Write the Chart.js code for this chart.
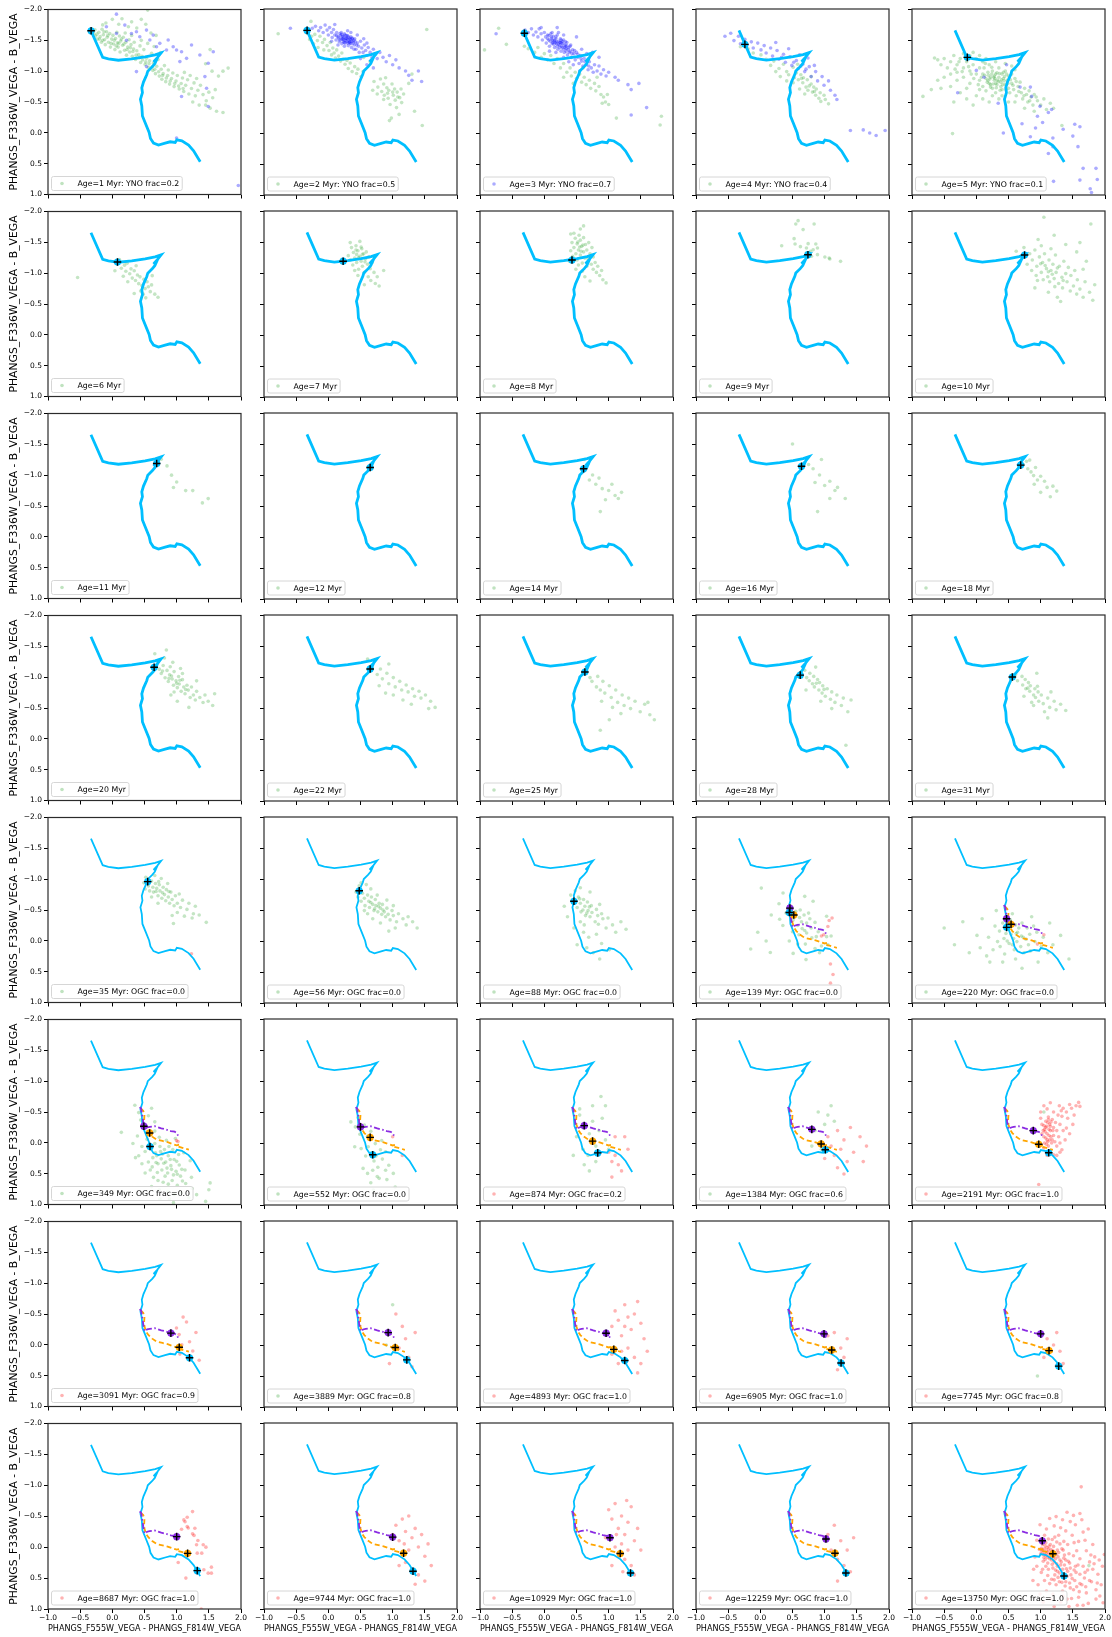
<!DOCTYPE html>
<html>
<head>
<meta charset="utf-8">
<script src="https://cdn.jsdelivr.net/npm/chart.js@4.4.1/dist/chart.umd.min.js"></script>
<style>
  html, body { margin: 0; padding: 0; background: #fff; }
  body { width: 1112px; height: 1637px; position: relative; overflow: hidden; }
  canvas { position: absolute; }
</style>
</head>
<body>
<script>
// ---- panel ages and legend text ----
const ages = [1, 2, 3, 4, 5, 6, 7, 8, 9, 10, 11, 12, 14, 16, 18, 20, 22, 25, 28, 31,
  35, 56, 88, 139, 220, 349, 552, 874, 1384, 2191, 3091, 3889, 4893, 6905, 7745,
  8687, 9744, 10929, 12259, 13750];
const fracText = ['YNO frac=0.2', 'YNO frac=0.5', 'YNO frac=0.7', 'YNO frac=0.4', 'YNO frac=0.1',
  '', '', '', '', '', '', '', '', '', '', '', '', '', '', '',
  'OGC frac=0.0', 'OGC frac=0.0', 'OGC frac=0.0', 'OGC frac=0.0', 'OGC frac=0.0',
  'OGC frac=0.0', 'OGC frac=0.0', 'OGC frac=0.2', 'OGC frac=0.6', 'OGC frac=1.0',
  'OGC frac=0.9', 'OGC frac=0.8', 'OGC frac=1.0', 'OGC frac=1.0', 'OGC frac=0.8',
  'OGC frac=1.0', 'OGC frac=1.0', 'OGC frac=1.0', 'OGC frac=1.0', 'OGC frac=1.0'];
const legendKind = ['g', 'g', 'b', 'g', 'g', 'g', 'g', 'g', 'g', 'g', 'g', 'g', 'g', 'g', 'g', 'g', 'g', 'g', 'g', 'g',
  'g', 'g', 'g', 'g', 'g', 'g', 'g', 'r', 'g', 'r', 'r', 'g', 'r', 'r', 'r', 'r', 'r', 'r', 'r', 'r'];

// ---- axis ranges and ticks ----
const xRange = [-1, 2];
const yRange = [-2, 1];
const tickStep = 0.5;
const xTitle = 'PHANGS_F555W_VEGA - PHANGS_F814W_VEGA';
const yTitle = 'PHANGS_F336W_VEGA - B_VEGA';

// ---- model tracks (colour-colour) ----
const trackBlue = [[-0.332, -1.656], [-0.15, -1.226], [-0.062, -1.199], [0.094, -1.177], [0.302, -1.199],
  [0.51, -1.231], [0.665, -1.263], [0.758, -1.296], [0.70, -1.22], [0.64, -1.15], [0.69, -1.19],
  [0.66, -1.12], [0.62, -1.07], [0.551, -1.0], [0.536, -0.946], [0.484, -0.823], [0.458, -0.731],
  [0.468, -0.651], [0.437, -0.543], [0.458, -0.435], [0.468, -0.274], [0.52, -0.14], [0.572, -0.005],
  [0.593, 0.091], [0.64, 0.167], [0.717, 0.199], [0.821, 0.167], [0.899, 0.145], [0.977, 0.156],
  [1.003, 0.113], [1.081, 0.129], [1.185, 0.199], [1.263, 0.29], [1.366, 0.468]];
const trackPurple = [[0.425, -0.58], [0.45, -0.55], [0.455, -0.5], [0.47, -0.42], [0.48, -0.34], [0.49, -0.28],
  [0.503, -0.22], [0.54, -0.25], [0.58, -0.26], [0.66, -0.27], [0.76, -0.235], [0.84, -0.215],
  [0.91, -0.19], [0.97, -0.18], [1.0, -0.16], [1.02, -0.12], [1.03, -0.10]];
const trackOrange = [[0.44, -0.56], [0.48, -0.52], [0.50, -0.46], [0.495, -0.38], [0.50, -0.30], [0.52, -0.22],
  [0.56, -0.16], [0.62, -0.10], [0.69, -0.05], [0.78, -0.03], [0.86, -0.01], [0.94, 0.02], [1.0, 0.04],
  [1.04, 0.03], [1.02, 0.06], [1.09, 0.08], [1.19, 0.11]];

// ---- age markers on each track ----
const markBlue = [[-0.33, -1.655], [-0.33, -1.655], [-0.31, -1.61], [-0.24, -1.43], [-0.14, -1.22],
  [0.08, -1.18], [0.23, -1.19], [0.43, -1.21], [0.74, -1.295], [0.75, -1.29],
  [0.69, -1.19], [0.65, -1.12], [0.61, -1.10], [0.64, -1.14], [0.69, -1.16],
  [0.65, -1.16], [0.65, -1.13], [0.63, -1.08], [0.62, -1.03], [0.56, -1.0],
  [0.55, -0.96], [0.48, -0.81], [0.46, -0.64], [0.45, -0.46], [0.47, -0.22],
  [0.586, 0.06], [0.69, 0.19], [0.83, 0.16], [1.01, 0.11], [1.125, 0.157],
  [1.20, 0.21], [1.22, 0.24], [1.25, 0.25], [1.255, 0.29], [1.28, 0.34],
  [1.32, 0.38], [1.316, 0.39], [1.34, 0.42], [1.33, 0.42], [1.363, 0.468]];
const markPurple = [null, null, null, null, null, null, null, null, null, null,
  null, null, null, null, null, null, null, null, null, null, null, null, null,
  [0.46, -0.53], [0.47, -0.36], [0.49, -0.27], [0.50, -0.26], [0.62, -0.28], [0.80, -0.22],
  [0.885, -0.20], [0.91, -0.19], [0.93, -0.20], [0.96, -0.19], [0.99, -0.18], [1.0, -0.18],
  [1.0, -0.17], [1.0, -0.16], [1.02, -0.15], [1.02, -0.13], [1.025, -0.10]];
const markOrange = [null, null, null, null, null, null, null, null, null, null,
  null, null, null, null, null, null, null, null, null, null, null, null, null,
  [0.52, -0.42], [0.54, -0.27], [0.58, -0.16], [0.65, -0.09], [0.75, -0.03], [0.945, 0.015],
  [0.97, 0.02], [1.04, 0.04], [1.04, 0.04], [1.08, 0.07], [1.11, 0.08], [1.13, 0.09],
  [1.17, 0.10], [1.17, 0.10], [1.18, 0.105], [1.16, 0.10], [1.19, 0.11]];

// ---- cluster colours per panel: green = intermediate, blue = young, red = old ----
const greenA1 = [[-0.29,-1.61],[-0.26,-1.57],[-0.27,-1.67],[-0.23,-1.52],[-0.21,-1.63],[-0.19,-1.56],[-0.17,-1.47],[-0.16,-1.68],[-0.14,-1.59],[-0.12,-1.51],[-0.11,-1.43],[-0.09,-1.64],[-0.08,-1.55],[-0.06,-1.47],[-0.04,-1.61],[-0.03,-1.39],[-0.01,-1.52],[0.01,-1.58],[0.02,-1.44],[0.04,-1.35],[0.05,-1.53],[0.07,-1.63],[0.08,-1.46],[0.09,-1.39],[0.11,-1.57],[0.12,-1.31],[0.13,-1.49],[0.16,-1.42],[0.17,-1.55],[0.19,-1.34],[0.21,-1.47],[0.22,-1.26],[0.24,-1.39],[0.26,-1.51],[0.27,-1.31],[0.29,-1.43],[0.31,-1.24],[0.33,-1.36],[0.34,-1.47],[0.36,-1.19],[0.38,-1.33],[0.41,-1.27],[0.43,-1.41],[0.44,-1.14],[0.46,-1.24],[0.49,-1.35],[0.51,-1.11],[0.53,-1.21],[0.56,-1.06],[0.58,-1.17],[0.61,-1.29],[0.63,-1.01],[0.64,-1.13],[0.67,-0.96],[0.69,-1.08],[0.71,-1.19],[0.73,-0.92],[0.76,-1.03],[0.77,-0.87],[0.79,-0.96],[0.81,-1.09],[0.83,-0.83],[0.86,-0.93],[0.87,-1.02],[0.89,-0.79],[0.92,-0.88],[0.94,-0.97],[0.96,-0.75],[0.99,-0.84],[1.01,-0.93],[1.04,-0.71],[1.07,-0.8],[1.09,-0.89],[1.11,-0.67],[1.14,-0.77],[1.17,-0.86],[1.19,-0.63],[1.23,-0.72],[1.27,-0.81],[1.29,-0.6],[1.33,-0.69],[1.37,-0.77],[1.41,-0.62],[1.46,-0.52],[1.5,-0.66],[1.56,-0.57],[1.62,-0.35],[1.72,-0.33],[-0.24,-1.6],[-0.2,-1.52],[-0.15,-1.5],[-0.13,-1.64],[-0.07,-1.58],[-0.02,-1.45],[0.03,-1.5],[0.06,-1.41],[0.1,-1.45],[0.14,-1.52],[0.18,-1.44],[0.23,-1.35],[0.28,-1.38],[0.32,-1.32],[0.37,-1.26],[0.42,-1.22],[0.47,-1.18],[0.52,-1.15],[0.57,-1.12],[0.62,-1.07],[0.66,-1.03],[0.72,-0.99],[0.78,-0.93],[0.84,-0.89],[0.9,-0.84],[0.97,-0.8],[1.03,-0.76],[1.1,-0.72],[-0.1,-1.78],[0,-1.84],[0.1,-1.76],[0.15,-1.85],[0.25,-1.72],[0.3,-1.8],[0.38,-1.7],[0.45,-1.84],[0.52,-1.76],[0.6,-1.62],[0.68,-1.58],[0.55,-1.99],[0.2,-1.62],[0.3,-1.58],[0.45,-1.5],[0.55,-1.45],[0.65,-1.4],[0.75,-1.3],[-0.15,-1.75],[1.55,-1.0],[1.45,-1.12],[1.65,-0.92],[1.8,-1.05],[1.72,-1.0],[1.52,-1.35],[1.6,-0.7],[1.45,-0.45],[1.35,-0.45],[1.25,-0.5],[1.52,-0.4],[1.21,-0.93],[1.31,-0.88],[1.12,-0.98]];
const blueA1 = [[0.064,-1.925],[-0.092,-1.72],[0.194,-1.747],[0.297,-1.612],[0.375,-1.639],[0.531,-1.666],[0.427,-1.558],[0.583,-1.505],[0.687,-1.397],[0.738,-1.451],[0.842,-1.343],[0.946,-1.397],[0.998,-1.343],[1.076,-1.316],[1.05,-1.155],[1.154,-1.208],[1.231,-1.424],[1.361,-1.262],[1.491,-1.128],[1.569,-1.316],[1.439,-0.912],[1.465,-0.724],[1.491,-0.428],[1.076,-0.589],[0.998,0.084],[0.375,-0.993],[0.531,-1.074],[1.958,0.854],[0.22,-1.5],[0.635,-1.585],[0.868,-1.505],[0.064,-1.612]];
const greenA2 = [[-0.33,-1.61],[-0.29,-1.51],[-0.26,-1.56],[-0.23,-1.44],[-0.21,-1.59],[-0.17,-1.49],[-0.16,-1.38],[-0.13,-1.56],[-0.09,-1.46],[-0.07,-1.34],[-0.06,-1.51],[-0.02,-1.41],[0.01,-1.33],[0.03,-1.46],[0.05,-1.26],[0.07,-1.37],[0.09,-1.29],[0.11,-1.21],[0.13,-1.34],[0.16,-1.24],[0.19,-1.16],[0.21,-1.29],[0.23,-1.19],[0.26,-1.11],[0.29,-1.17],[0.31,-1.04],[0.34,-1.13],[0.37,-0.99],[0.41,-1.07],[0.44,-0.96],[0.46,-1.03],[0.51,-0.91],[0.54,-0.99],[0.71,-0.83],[0.77,-0.74],[0.81,-0.87],[0.83,-0.67],[0.86,-0.79],[0.87,-0.61],[0.91,-0.73],[0.93,-0.56],[0.94,-0.69],[0.99,-0.79],[1.01,-0.61],[1.03,-0.71],[1.04,-0.53],[1.07,-0.66],[1.11,-0.57],[1.13,-0.71],[1.14,-0.49],[1.17,-0.63],[0.86,-0.54],[0.76,-0.63],[0.69,-0.69],[0.96,-0.46],[1.06,-0.41],[0.89,-0.89],[1.0,-0.66],[0.92,-0.64],[1.08,-0.58],[-0.78,-1.6],[-0.27,-1.8],[-0.35,-1.65],[1.53,-1.67],[1.34,-0.35],[1.46,-0.12],[0.98,-0.24],[1.1,-0.3],[0.95,-0.2],[0.55,-1.22],[0.65,-1.15],[1.3,-0.95],[1.25,-0.8]];
const blueA2 = [[-0.25,-1.69],[-0.2,-1.72],[-0.15,-1.65],[-0.12,-1.7],[-0.08,-1.62],[-0.05,-1.74],[-0.02,-1.66],[0,-1.58],[0.02,-1.7],[0.05,-1.62],[0.06,-1.54],[0.08,-1.67],[0.1,-1.58],[0.12,-1.5],[0.13,-1.62],[0.15,-1.55],[0.17,-1.47],[0.18,-1.6],[0.2,-1.52],[0.21,-1.44],[0.22,-1.56],[0.24,-1.5],[0.25,-1.6],[0.26,-1.45],[0.28,-1.53],[0.29,-1.48],[0.3,-1.57],[0.31,-1.41],[0.32,-1.5],[0.34,-1.45],[0.35,-1.55],[0.36,-1.38],[0.38,-1.48],[0.4,-1.42],[0.41,-1.52],[0.43,-1.35],[0.45,-1.45],[0.47,-1.4],[0.48,-1.3],[0.5,-1.48],[0.52,-1.37],[0.54,-1.3],[0.56,-1.42],[0.58,-1.33],[0.6,-1.25],[0.62,-1.38],[0.65,-1.3],[0.68,-1.22],[0.7,-1.35],[0.73,-1.27],[0.76,-1.2],[0.8,-1.3],[0.85,-1.22],[0.9,-1.15],[0.95,-1.25],[1.0,-1.1],[1.05,-1.18],[1.1,-1.05],[1.2,-1.0],[1.25,-0.93],[1.3,-0.85],[1.45,-0.83],[1.4,-1.0],[0.2,-1.62],[0.25,-1.4],[0.15,-1.42],[0.35,-1.62],[0.45,-1.58],[0.55,-1.52],[0.1,-1.75],[0.3,-1.65],[0.4,-1.35],[0.6,-1.45],[0.05,-1.48],[-0.59,-1.69],[0.6,-1.1],[0.7,-1.05],[0.5,-1.2],[0.27,-1.52],[0.33,-1.47],[0.23,-1.47],[0.37,-1.52],[0.16,-1.53],[0.19,-1.57],[0.22,-1.51],[0.24,-1.55],[0.26,-1.58],[0.27,-1.49],[0.29,-1.52],[0.31,-1.55],[0.32,-1.46],[0.34,-1.51],[0.36,-1.48],[0.37,-1.53],[0.39,-1.45],[0.42,-1.47],[0.44,-1.42],[0.23,-1.53],[0.28,-1.57],[0.33,-1.53],[0.18,-1.5],[0.21,-1.59],[0.3,-1.45],[0.25,-1.46],[0.35,-1.44],[0.4,-1.5],[0.13,-1.57]];
const greenA3 = [[-0.93,-1.34],[-0.71,-1.69],[-0.59,-1.43],[-0.31,-1.4],[-0.25,-1.36],[-0.15,-1.3],[-0.1,-1.38],[-0.05,-1.22],[0,-1.28],[0.05,-1.18],[0.1,-1.25],[0.15,-1.12],[0.2,-1.2],[0.25,-1.05],[0.3,-1.12],[0.35,-0.98],[0.4,-1.05],[0.42,-0.92],[0.48,-0.98],[0.5,-0.88],[0.55,-0.95],[0.58,-0.82],[0.62,-0.9],[0.65,-0.78],[0.7,-0.85],[0.72,-0.72],[0.78,-0.8],[0.8,-0.68],[0.85,-0.75],[0.88,-0.62],[0.92,-0.58],[0.95,-0.5],[0.98,-0.62],[1.0,-0.46],[0.9,-0.48],[1.12,-0.24],[1.8,-0.13],[1.82,-0.27],[0.6,-1.05],[0.3,-0.9],[0.45,-0.8],[0.82,-0.9]];
const blueA3 = [[-0.3,-1.66],[-0.25,-1.62],[-0.2,-1.68],[-0.17,-1.58],[-0.13,-1.63],[-0.1,-1.55],[-0.08,-1.68],[-0.05,-1.6],[-0.03,-1.5],[0,-1.62],[0.02,-1.55],[0.03,-1.45],[0.05,-1.58],[0.07,-1.5],[0.08,-1.4],[0.1,-1.6],[0.11,-1.52],[0.12,-1.44],[0.14,-1.56],[0.15,-1.48],[0.16,-1.38],[0.18,-1.52],[0.19,-1.44],[0.2,-1.58],[0.21,-1.35],[0.22,-1.48],[0.24,-1.42],[0.25,-1.52],[0.26,-1.32],[0.27,-1.45],[0.28,-1.38],[0.3,-1.5],[0.31,-1.3],[0.32,-1.42],[0.34,-1.36],[0.35,-1.46],[0.36,-1.26],[0.38,-1.38],[0.4,-1.32],[0.41,-1.42],[0.42,-1.22],[0.44,-1.34],[0.46,-1.28],[0.48,-1.18],[0.5,-1.3],[0.52,-1.22],[0.54,-1.12],[0.56,-1.25],[0.58,-1.16],[0.6,-1.08],[0.62,-1.2],[0.65,-1.1],[0.68,-1.02],[0.7,-1.15],[0.73,-1.05],[0.76,-0.98],[0.78,-1.1],[0.82,-1.0],[0.85,-1.08],[0.88,-0.95],[0.92,-1.02],[0.96,-0.92],[1.0,-0.98],[0.12,-1.62],[0.22,-1.62],[0.3,-1.58],[0.08,-1.32],[0.18,-1.3],[0.3,-1.22],[0.38,-1.15],[0.45,-1.1],[0.55,-1.0],[-0.05,-1.7],[0.2,-1.7],[0.5,-1.55],[0.58,-1.35],[0.66,-1.28],[0.75,-1.3],[0.85,-1.22],[-0.75,-1.6],[1.3,-0.78],[1.47,-0.8],[1.35,-0.7],[1.59,-0.41],[1.35,-0.29],[1.1,-0.9],[1.15,-0.85],[0.24,-1.46],[0.28,-1.48],[0.33,-1.4],[0.17,-1.46],[0.13,-1.5],[0.05,-1.52],[0.09,-1.48],[0.13,-1.46],[0.16,-1.5],[0.19,-1.47],[0.22,-1.43],[0.25,-1.46],[0.27,-1.4],[0.29,-1.44],[0.32,-1.38],[0.35,-1.41],[0.37,-1.35],[0.11,-1.55],[0.15,-1.43],[0.2,-1.4],[0.24,-1.38],[0.3,-1.35],[0.34,-1.32],[0.39,-1.3],[0.43,-1.28],[0.07,-1.57],[0.18,-1.55],[0.26,-1.5],[0.33,-1.47],[0.4,-1.4],[0.47,-1.33],[0.52,-1.27],[0.57,-1.2],[0.63,-1.15],[0.69,-1.08]];
const greenA4 = [[-0.31,-1.39],[-0.19,-1.36],[-0.11,-1.29],[0.01,-1.26],[0.09,-1.19],[0.16,-1.09],[0.21,-1.16],[0.29,-1.04],[0.36,-1.11],[0.41,-0.99],[0.44,-0.94],[0.51,-1.06],[0.53,-0.89],[0.56,-0.97],[0.59,-0.86],[0.63,-0.94],[0.66,-0.81],[0.67,-0.89],[0.71,-0.74],[0.73,-0.86],[0.74,-0.69],[0.79,-0.79],[0.81,-0.66],[0.83,-0.74],[0.86,-0.61],[0.87,-0.71],[0.91,-0.56],[0.93,-0.65],[0.94,-0.51],[0.99,-0.61],[1.01,-0.54],[1.06,-0.47],[0.51,-0.81],[0.61,-0.71],[0.69,-0.63],[0.41,-0.84],[0.31,-0.91],[0.24,-0.99],[0.58,-1.11],[0.79,-0.91],[0.64,-0.88],[0.76,-0.76],[0.84,-0.67]];
const blueA4 = [[-0.55,-1.56],[-0.46,-1.61],[-0.41,-1.49],[-0.34,-1.56],[-0.31,-1.44],[-0.24,-1.51],[-0.21,-1.41],[-0.14,-1.47],[-0.11,-1.37],[-0.04,-1.45],[0.01,-1.34],[0.06,-1.41],[0.09,-1.29],[0.16,-1.37],[0.19,-1.24],[0.26,-1.33],[0.29,-1.19],[0.36,-1.27],[0.39,-1.14],[0.46,-1.23],[0.49,-1.09],[0.56,-1.17],[0.59,-1.04],[0.66,-1.11],[0.69,-0.99],[0.76,-1.07],[0.79,-0.91],[0.86,-0.99],[0.89,-0.84],[0.96,-0.91],[0.99,-0.77],[1.06,-0.84],[1.09,-0.69],[1.16,-0.61],[1.19,-0.54],[0.24,-1.46],[0.44,-1.36],[0.61,-1.26],[0.74,-1.21],[0.84,-1.09],[1.4,-0.04],[1.8,0.04],[1.94,-0.04],[1.7,0],[1.6,-0.05],[0.52,-1.14],[0.63,-1.08],[0.71,-1.03],[0.33,-1.22]];
const greenA5 = [[-0.65,-1.21],[-0.6,-1.18],[-0.55,-1.1],[-0.5,-1.2],[-0.45,-1.05],[-0.4,-1.15],[-0.35,-1.25],[-0.3,-1.1],[-0.25,-1.2],[-0.2,-1.28],[-0.15,-1.15],[-0.1,-1.25],[-0.05,-1.3],[-0.2,-1.05],[-0.3,-0.98],[-0.4,-0.95],[-0.5,-0.9],[-0.6,-0.85],[-0.7,-0.7],[-0.83,-0.59],[-0.55,-0.72],[-0.4,-0.75],[-0.3,-0.85],[-0.2,-0.9],[-0.1,-1.0],[-0.05,-1.1],[0,-1.2],[0.05,-1.25],[0.1,-1.15],[0,-0.95],[-0.1,-0.8],[-0.25,-0.65],[-0.35,-0.5],[-0.15,-0.55],[0,-0.6],[0.05,-0.7],[0.05,-0.85],[0.1,-0.95],[0.1,-0.75],[0.12,-1.05],[0.15,-0.88],[0.15,-0.68],[0.18,-0.98],[0.2,-0.8],[0.2,-1.1],[0.22,-0.9],[0.25,-0.72],[0.25,-1.0],[0.28,-0.85],[0.3,-0.95],[0.3,-0.65],[0.32,-0.78],[0.35,-0.9],[0.35,-1.05],[0.38,-0.82],[0.4,-0.7],[0.4,-0.95],[0.42,-0.88],[0.45,-0.78],[0.45,-1.0],[0.48,-0.85],[0.5,-0.72],[0.5,-0.92],[0.52,-0.65],[0.55,-0.8],[0.55,-0.95],[0.58,-0.7],[0.6,-0.88],[0.62,-0.6],[0.65,-0.75],[0.68,-0.82],[0.7,-0.65],[0.72,-0.55],[0.75,-0.72],[0.78,-0.62],[0.8,-0.5],[0.82,-0.68],[0.85,-0.58],[0.88,-0.45],[0.9,-0.62],[0.95,-0.52],[1.0,-0.45],[1.05,-0.55],[1.09,-0.38],[1.15,-0.48],[1.2,-0.4],[1.33,-0.12],[0.3,-1.15],[0.15,-1.2],[0.45,-1.12],[0.55,-1.08],[0.6,-1.02],[-0.37,0.01],[0.2,-0.5],[0.35,-0.55],[0.5,-0.5],[-0.05,-0.45],[0.25,-0.6],[0.1,-0.55],[0.4,-0.6],[0.6,-0.5],[0.75,-0.4],[0.9,-0.35],[0.05,-1.05],[-0.15,-0.72],[0.28,-0.92],[0.33,-0.85],[0.38,-0.75],[0.22,-0.78],[0.18,-0.85],[0.3,-0.8],[0.42,-0.98],[0.13,-0.93],[0.17,-0.82],[0.21,-0.87],[0.24,-0.95],[0.26,-0.79],[0.29,-0.88],[0.31,-0.73],[0.34,-0.83],[0.36,-0.96],[0.39,-0.86],[0.41,-0.78],[0.44,-0.91],[0.46,-0.7],[0.49,-0.8],[0.27,-0.9],[0.32,-0.97],[0.37,-0.69],[0.22,-0.74],[0.19,-0.93],[0.43,-0.84],[0.47,-0.95],[0.53,-0.86],[0.57,-0.77],[0.62,-0.83],[0.08,-0.9],[0.03,-0.78],[-0.04,-0.88],[-0.08,-0.95],[-0.12,-1.07],[0.14,-1.12],[0.24,-1.06],[-0.22,-0.99],[-0.27,-1.15],[-0.33,-1.03],[0.66,-0.67],[0.74,-0.6],[0.83,-0.52],[0.93,-0.58]];
const blueA5 = [[-0.29,-0.65],[0,-1.01],[0.47,-1.1],[0.12,-0.9],[0.34,-0.48],[0.68,-0.74],[0.84,-0.74],[0.86,-0.59],[0.99,-0.43],[1.12,-0.33],[1.17,-0.38],[0.95,-0.27],[1.03,-0.17],[0.92,-0.08],[0.71,-0.15],[0.84,0.06],[0.42,0],[1.19,0.08],[1.35,-0.06],[1.53,-0.14],[1.61,-0.1],[1.5,0.05],[1.19,0.22],[1.12,0.33],[1.58,0.22],[1.66,0.57],[1.86,0.57],[1.88,0.75],[1.61,0.76],[1.77,0.9],[1.79,0.96],[1.2,0.78]];
const greenA6 = [[0.06,-1.17],[0.11,-1.22],[0.14,-1.08],[0.19,-1.13],[0.21,-1.03],[0.23,-1.16],[0.27,-0.99],[0.29,-1.07],[0.31,-0.92],[0.34,-1.04],[0.36,-0.88],[0.39,-0.97],[0.41,-0.83],[0.43,-0.94],[0.46,-0.8],[0.49,-0.9],[0.51,-0.75],[0.54,-0.86],[0.59,-0.7],[0.61,-0.81],[0.66,-0.66],[0.71,-0.61],[0.34,-0.67],[0.52,-0.6],[-0.54,-0.93],[0.04,-1.04],[0.24,-0.86],[0.44,-0.71],[0.62,-0.96],[0.37,-1.12],[0.17,-0.95],[0.56,-0.78],[0.48,-0.66]];
const greenA7 = [[0.31,-1.28],[0.34,-1.21],[0.36,-1.41],[0.38,-1.13],[0.39,-1.33],[0.41,-1.24],[0.43,-1.44],[0.44,-1.17],[0.46,-1.36],[0.47,-1.06],[0.49,-1.27],[0.51,-1.19],[0.52,-1.39],[0.53,-1.11],[0.55,-1.31],[0.56,-1.01],[0.58,-1.23],[0.59,-1.34],[0.61,-1.14],[0.62,-0.94],[0.63,-1.26],[0.65,-1.07],[0.66,-0.88],[0.68,-1.17],[0.71,-1.01],[0.73,-0.83],[0.76,-0.94],[0.79,-0.79],[0.41,-1.04],[0.46,-0.96],[0.56,-0.81],[0.34,-1.49],[0.49,-1.51],[0.26,-1.19],[0.86,-1.04],[0.43,-1.37],[0.53,-1.3],[0.47,-1.25],[0.57,-1.18],[0.44,-1.3],[0.51,-1.42]];
const greenA8 = [[0.39,-1.19],[0.41,-1.36],[0.43,-1.49],[0.44,-1.27],[0.46,-1.41],[0.48,-1.56],[0.49,-1.31],[0.51,-1.21],[0.51,-1.47],[0.53,-1.37],[0.54,-1.61],[0.56,-1.29],[0.56,-1.53],[0.58,-1.43],[0.59,-1.16],[0.61,-1.34],[0.61,-1.57],[0.63,-1.24],[0.64,-1.46],[0.66,-1.11],[0.66,-1.37],[0.68,-1.23],[0.69,-1.49],[0.71,-1.31],[0.73,-1.14],[0.74,-1.41],[0.76,-1.06],[0.76,-1.26],[0.79,-1.17],[0.81,-1.01],[0.83,-1.11],[0.86,-0.96],[0.89,-1.04],[0.91,-0.89],[0.56,-1.71],[0.61,-1.76],[0.46,-1.64],[0.53,-1.13],[0.59,-1.03],[0.63,-0.94],[0.71,-0.87],[0.49,-1.06],[0.96,-0.84],[0.41,-1.63],[0.55,-1.42],[0.6,-1.45],[0.52,-1.5],[0.57,-1.35]];
const greenA9 = [[0.587,-1.844],[0.551,-1.79],[0.665,-1.7],[0.836,-1.79],[0.332,-1.44],[0.525,-1.554],[0.54,-1.468],[0.623,-1.425],[0.743,-1.473],[0.862,-1.468],[0.888,-1.403],[0.717,-1.403],[0.78,-1.35],[0.821,-1.376],[0.888,-1.296],[1.003,-1.258],[1.07,-1.242],[1.08,-1.226],[1.247,-1.188],[0.706,-1.258],[0.717,-1.323],[0.795,-1.269]];
const greenA10 = [[0.62,-1.35],[0.71,-1.24],[0.74,-1.41],[0.79,-1.14],[0.83,-1.31],[0.86,-1.04],[0.87,-1.21],[0.91,-1.37],[0.93,-0.96],[0.94,-1.11],[0.98,-1.26],[1.01,-1.01],[1.03,-1.17],[1.04,-0.89],[1.06,-1.31],[1.09,-1.07],[1.11,-0.94],[1.13,-1.21],[1.14,-0.86],[1.16,-1.04],[1.19,-1.14],[1.21,-0.91],[1.23,-1.29],[1.24,-1.01],[1.28,-0.83],[1.29,-1.11],[1.33,-0.93],[1.34,-0.76],[1.36,-1.19],[1.39,-0.99],[1.41,-0.86],[1.43,-1.09],[1.46,-0.71],[1.47,-0.96],[1.51,-0.79],[1.53,-1.04],[1.56,-0.66],[1.57,-0.89],[1.61,-0.74],[1.66,-0.61],[1.69,-0.86],[1.76,-0.69],[1.81,-0.56],[1.84,-0.81],[1.05,-1.9],[1.78,-1.79],[1.21,-1.61],[1.39,-1.46],[1.56,-1.34],[1.71,-1.19],[1.01,-1.44],[0.91,-0.76],[1.12,-0.69],[1.26,-0.61],[1.31,-0.54],[1.61,-1.49],[1.66,-1.06],[0.96,-1.54],[1.16,-1.39],[1.07,-1.12],[1.18,-0.98],[1.26,-1.08],[1.12,-1.02],[1.0,-1.15],[1.35,-0.88],[1.22,-0.78],[0.95,-0.88]];
const greenA11 = [[0.76,-1.26],[0.85,-1.15],[0.92,-1.0],[1.0,-0.89],[1.14,-0.75],[1.25,-0.75],[1.49,-0.62],[1.4,-0.55],[0.95,-0.8]];
const greenA12 = [];
const greenA14 = [[0.62,-1.25],[0.68,-1.18],[0.7,-0.92],[0.75,-1.0],[0.8,-0.85],[0.85,-0.95],[0.9,-0.78],[1.0,-0.75],[1.05,-0.85],[1.1,-0.67],[1.15,-0.62],[0.87,-0.41],[1.2,-0.72],[0.95,-0.6]];
const greenA16 = [[0.75,-1.17],[0.82,-1.1],[0.92,-1.0],[0.95,-1.25],[1.0,-0.83],[1.08,-0.9],[1.16,-0.75],[1.32,-0.62],[1.08,-0.62],[0.89,-0.41],[0.5,-1.5],[1.2,-0.8],[0.85,-0.88]];
const greenA18 = [[0.73,-1.17],[0.78,-1.22],[0.8,-1.1],[0.85,-1.05],[0.89,-0.99],[0.92,-1.12],[0.95,-0.92],[1.0,-0.98],[1.06,-0.9],[1.1,-0.8],[1.19,-0.82],[1.25,-0.74],[1.0,-0.72],[1.15,-0.65],[0.83,-1.24],[0.9,-0.85]];
const greenA20 = [[0.66,-1.38],[0.71,-1.24],[0.73,-1.13],[0.76,-1.06],[0.79,-1.19],[0.81,-1.31],[0.82,-0.99],[0.85,-1.11],[0.87,-0.93],[0.89,-1.04],[0.9,-1.17],[0.93,-0.97],[0.95,-0.87],[0.96,-1.09],[0.99,-0.94],[1.01,-0.83],[1.03,-1.01],[1.04,-0.89],[1.07,-0.77],[1.09,-0.96],[1.11,-0.84],[1.13,-0.73],[1.16,-0.87],[1.18,-0.79],[1.21,-0.67],[1.23,-0.84],[1.26,-0.71],[1.29,-0.63],[1.31,-0.77],[1.36,-0.67],[1.41,-0.59],[1.44,-0.71],[1.49,-0.61],[1.56,-0.54],[1.59,-0.73],[1.19,-0.51],[1.01,-0.61],[0.91,-0.71],[0.84,-1.44],[0.94,-1.24],[1.09,-1.06],[1.31,-0.94],[0.96,-0.76],[1.06,-1.14],[0.88,-0.98],[1.0,-0.9],[0.92,-1.02],[1.05,-0.95],[1.14,-0.8],[0.78,-1.1]];
const greenA22 = [[0.68,-1.14],[0.76,-1.04],[0.81,-1.13],[0.84,-0.97],[0.91,-1.06],[0.94,-0.89],[1.01,-0.99],[1.04,-0.84],[1.11,-0.93],[1.14,-0.79],[1.21,-0.87],[1.24,-0.76],[1.31,-0.81],[1.34,-0.69],[1.41,-0.77],[1.44,-0.66],[1.51,-0.71],[1.59,-0.61],[1.66,-0.51],[1.01,-0.71],[0.94,-1.21],[1.16,-0.63],[0.79,-0.86],[1.29,-0.56],[0.61,-1.29],[1.56,-0.49],[0.89,-0.74]];
const greenA25 = [[0.66,-1.14],[0.71,-0.99],[0.74,-0.93],[0.81,-0.84],[0.83,-1.01],[0.87,-0.79],[0.91,-0.93],[0.94,-0.74],[1.01,-0.86],[1.04,-0.67],[1.11,-0.79],[1.14,-0.59],[1.21,-0.71],[1.24,-0.54],[1.31,-0.66],[1.34,-0.49],[1.41,-0.61],[1.49,-0.44],[1.56,-0.56],[1.64,-0.39],[1.71,-0.31],[1.06,-0.51],[0.89,-0.61],[0.87,-0.14],[1.19,-0.41],[1.61,-0.59],[0.73,-1.29],[1.01,-0.31]];
const greenA28 = [[0.69,-1.11],[0.72,-0.99],[0.76,-0.94],[0.77,-1.06],[0.81,-0.89],[0.83,-1.01],[0.84,-0.84],[0.89,-0.96],[0.91,-0.79],[0.92,-0.91],[0.96,-0.74],[0.97,-0.86],[1.01,-0.69],[1.04,-0.81],[1.09,-0.64],[1.11,-0.76],[1.16,-0.59],[1.19,-0.71],[1.26,-0.54],[1.29,-0.66],[0.94,-0.61],[1.11,-0.49],[0.71,-0.79],[1.33,0.1],[1.36,-0.44],[0.86,-1.16],[1.41,-0.63],[0.87,-0.9],[0.99,-0.8]];
const greenA31 = [[0.61,-1.04],[0.64,-0.94],[0.71,-1.01],[0.72,-0.87],[0.76,-0.96],[0.77,-0.81],[0.81,-0.91],[0.83,-0.77],[0.84,-0.86],[0.89,-0.71],[0.91,-0.81],[0.92,-0.67],[0.96,-0.76],[0.97,-0.61],[1.01,-0.71],[1.04,-0.57],[1.11,-0.66],[1.14,-0.51],[1.21,-0.61],[1.24,-0.47],[1.31,-0.56],[0.89,-0.54],[1.06,-0.44],[0.74,-0.69],[0.94,-1.06],[1.39,-0.46],[1.11,-0.34],[0.86,-0.59],[1.16,-0.76],[0.8,-0.82],[0.95,-0.85]];
const greenA35 = [[0.49,-0.94],[0.51,-0.84],[0.52,-1.03],[0.56,-0.89],[0.58,-0.81],[0.61,-0.97],[0.63,-0.87],[0.64,-0.79],[0.67,-0.93],[0.69,-0.85],[0.71,-0.73],[0.73,-0.91],[0.74,-0.81],[0.77,-0.69],[0.79,-0.87],[0.81,-0.75],[0.83,-0.65],[0.84,-0.83],[0.87,-0.71],[0.89,-0.61],[0.91,-0.79],[0.93,-0.67],[0.96,-0.57],[0.98,-0.73],[1.01,-0.61],[1.06,-0.54],[1.09,-0.66],[1.16,-0.51],[1.19,-0.61],[1.26,-0.44],[1.29,-0.56],[0.93,-0.41],[0.95,-0.28],[1.24,-0.37],[1.46,-0.3],[1.35,-0.42],[1.01,-0.46],[0.71,-0.61],[0.61,-0.71],[0.76,-1.01],[0.86,-0.93],[1.04,-0.76],[0.66,-1.06],[1.12,-0.4],[0.68,-0.8],[0.78,-0.78],[0.88,-0.8],[0.72,-0.96]];
const redA35 = [[1.23,0.21]];
const greenA56 = [[0.43,-0.79],[0.46,-0.71],[0.48,-0.89],[0.51,-0.64],[0.53,-0.77],[0.56,-0.69],[0.57,-0.57],[0.61,-0.74],[0.63,-0.64],[0.64,-0.54],[0.67,-0.71],[0.69,-0.59],[0.71,-0.49],[0.73,-0.67],[0.74,-0.57],[0.77,-0.47],[0.79,-0.61],[0.81,-0.53],[0.83,-0.43],[0.84,-0.59],[0.87,-0.47],[0.89,-0.39],[0.91,-0.53],[0.93,-0.43],[0.96,-0.34],[0.99,-0.49],[1.01,-0.41],[1.06,-0.31],[1.09,-0.44],[1.16,-0.36],[1.21,-0.26],[1.24,-0.39],[1.31,-0.31],[1.38,-0.21],[0.61,-0.44],[0.69,-0.36],[0.56,-0.49],[0.81,-0.29],[0.66,-0.84],[0.76,-0.74],[0.91,-0.66],[1.01,-0.57],[1.04,-0.21],[0.94,-0.16],[0.51,-0.94],[0.59,-0.91],[0.72,-0.52],[0.78,-0.56],[0.66,-0.62],[0.85,-0.5]];
const greenA88 = [[0.41,-0.74],[0.44,-0.66],[0.48,-0.81],[0.51,-0.54],[0.53,-0.71],[0.56,-0.61],[0.57,-0.47],[0.61,-0.67],[0.63,-0.56],[0.64,-0.41],[0.67,-0.63],[0.68,-0.49],[0.71,-0.39],[0.73,-0.57],[0.74,-0.46],[0.79,-0.31],[0.81,-0.51],[0.83,-0.41],[0.84,-0.27],[0.89,-0.44],[0.91,-0.36],[0.96,-0.21],[0.99,-0.37],[1.06,-0.26],[1.11,-0.14],[1.19,-0.31],[1.27,-0.19],[0.56,-0.31],[0.61,-0.14],[0.69,-0.06],[0.66,0.11],[0.76,0.19],[0.86,0.29],[0.51,0.06],[0.36,-0.39],[0.31,-0.56],[0.56,-0.86],[0.71,-0.79],[0.81,-0.11],[0.89,0.04],[1.01,0.14],[0.46,-0.21],[0.62,-0.26],[0.86,-0.59],[0.6,-0.5],[0.7,-0.55],[0.66,-0.45],[0.55,-0.68]];
const greenA139 = [[0.015,-0.853],[0.353,-0.774],[0.29,-0.6],[0.17,-0.42],[-0.04,-0.14],[0.09,0],[-0.15,0.13],[0.155,0.185],[0.69,-0.72],[0.82,-0.64],[0.45,-0.55],[0.51,-0.34],[0.61,-0.38],[0.72,-0.29],[0.79,-0.21],[0.72,-0.13],[0.87,-0.07],[1.03,-0.4],[1.03,-0.07],[1.1,-0.08],[1.05,0.06],[0.92,0.19],[0.71,0.3],[0.51,0.2],[0.4,-0.45],[0.55,-0.48],[0.62,-0.5],[0.68,-0.42],[0.75,-0.45],[0.58,-0.25],[0.65,-0.2],[0.85,-0.3],[0.9,-0.15],[0.8,-0.05],[0.6,-0.1],[0.5,-0.15],[0.35,-0.25],[0.3,-0.35],[0.45,0],[0.95,0.08],[0.58,0.05],[0.85,0.12],[0.7,0.05],[0.64,-0.31],[0.77,-0.36],[0.69,-0.17]];
const redA139 = [[1.05,-0.235],[1.115,-0.37],[1.07,-0.33],[0.985,-0.1],[0.95,-0.08],[1.09,0.37],[1.13,0.54],[1.09,0.68]];
const greenA220 = [[-0.5,-0.21],[-0.34,0.06],[-0.21,-0.31],[-0.11,0.19],[0.01,-0.09],[0.06,0.11],[0.09,-0.36],[0.16,0.24],[0.19,-0.06],[0.26,0.14],[0.29,-0.24],[0.33,0.01],[0.36,-0.16],[0.37,0.09],[0.41,-0.29],[0.43,-0.04],[0.44,0.21],[0.49,-0.19],[0.51,0.04],[0.53,-0.34],[0.54,-0.11],[0.59,0.14],[0.61,-0.26],[0.63,0.01],[0.64,-0.14],[0.69,0.09],[0.71,-0.29],[0.73,-0.06],[0.74,0.19],[0.79,-0.21],[0.81,0.06],[0.83,-0.11],[0.84,0.16],[0.89,-0.24],[0.91,0.01],[0.94,-0.14],[1.01,0.09],[1.04,-0.06],[1.11,0.19],[1.19,0.06],[1.31,-0.09],[1.44,0.29],[0.61,0.29],[0.41,0.34],[0.71,0.44],[0.31,-0.49],[0.56,-0.44],[0.86,-0.39],[1.14,-0.29],[0.21,0.34],[0.96,0.34],[0.46,-0.12],[0.58,-0.04],[0.66,-0.21],[0.52,-0.22],[0.62,-0.12],[0.7,-0.08],[0.48,0.0],[0.77,-0.03],[0.56,0.06]];
const redA220 = [[1.05,-0.1],[0.95,0.05]];
const greenA349 = [[0.35,-0.61],[0.41,-0.49],[0.44,-0.37],[0.56,-0.44],[0.61,-0.56],[0.49,-0.24],[0.66,-0.34],[0.14,-0.17],[0.32,0.01],[0.39,-0.11],[0.46,0.06],[0.51,0.14],[0.54,-0.06],[0.61,0.09],[0.63,0.24],[0.66,0.01],[0.67,0.16],[0.71,0.34],[0.73,-0.09],[0.74,0.06],[0.76,0.26],[0.77,0.44],[0.81,0.11],[0.83,0.31],[0.84,-0.04],[0.86,0.49],[0.87,0.21],[0.91,0.37],[0.93,0.61],[0.94,0.11],[0.96,0.27],[0.99,0.46],[1.01,0.69],[1.03,0.19],[1.04,0.36],[1.06,0.54],[1.07,0.81],[1.11,0.16],[1.13,0.44],[1.14,0.66],[1.19,0.89],[1.21,0.29],[1.23,0.56],[1.24,0.74],[0.56,0.31],[0.59,0.44],[0.64,0.56],[0.71,0.61],[0.73,0.76],[0.79,0.64],[0.86,0.79],[0.89,0.91],[0.96,0.84],[1.01,0.51],[0.61,0.71],[0.51,0.49],[0.46,0.34],[0.41,0.21],[0.36,0.24],[1.52,0.65],[1.5,0.76],[1.45,0.95],[1.31,0.84],[0.78,0.18],[0.88,0.06],[0.98,-0.07],[0.69,0.21],[0.62,0.39],[0.82,0.54],[0.92,0.43],[1.09,0.62],[0.66,-0.19],[0.95,0.97],[0.74,0.91],[0.8,0.33],[0.9,0.27],[0.75,0.14],[0.85,0.41],[0.95,0.52],[0.7,0.48],[1.0,0.3],[0.68,0.32],[1.08,0.43],[0.87,0.67]];
const redA349 = [[0.997,-0.036],[1.02,-0.02]];
const greenA552 = [[0.35,-0.34],[0.42,-0.26],[0.49,-0.14],[0.46,-0.41],[0.56,-0.29],[0.61,-0.11],[0.62,0.06],[0.66,-0.19],[0.67,0.16],[0.71,0.29],[0.73,0.01],[0.74,0.21],[0.77,0.39],[0.81,0.11],[0.83,-0.04],[0.84,0.26],[0.89,0.44],[0.91,0.59],[0.94,0.36],[1.01,0.49],[1.04,0.71],[0.61,0.49],[0.66,0.64],[0.54,0.41],[0.76,0.54],[0.7,0.76],[0.51,0.09],[0.58,0.21],[0.41,0.06],[0.89,0.14],[0.69,0.44],[0.79,0.57]];
const redA552 = [[1.0,-0.1],[1.15,0.2]];
const greenA874 = [[0.55,-0.45],[0.62,-0.25],[0.7,-0.15],[0.75,-0.35],[0.8,0.05],[0.68,0.2],[0.6,0.1],[0.85,-0.2],[0.9,-0.4],[0.95,-0.6],[0.88,-0.75],[0.75,-0.6],[0.5,-0.1],[0.45,0.2],[0.8,0.3],[0.7,0.45],[0.62,0.35],[0.55,-0.55],[0.95,-0.05],[1.0,0.1]];
const redA874 = [[1.0,0.15],[1.05,0.3],[1.1,0.2],[1.2,0.45],[1.15,0.35],[1.3,0.1],[1.25,-0.1],[1.1,-0.1],[1.05,0.55]];
const greenA1384 = [[0.9,-0.5],[1.0,-0.3],[1.05,-0.45],[0.85,-0.2],[1.15,-0.35],[0.95,0.1],[0.8,0.05],[1.1,-0.6]];
const redA1384 = [[1.05,-0.1],[1.1,0.05],[1.15,0.2],[1.2,-0.2],[1.25,0.1],[1.3,-0.05],[1.35,0.3],[1.4,-0.25],[1.45,0.15],[1.55,-0.1],[1.6,0.3],[1.65,0.05],[1.2,0.4],[1.3,0.5],[1.0,0.25]];
const greenA2191 = [[1.05,-0.5]];
const redA2191 = [[1.0,-0.4],[1.02,-0.3],[1.04,-0.2],[1.05,-0.1],[1.06,0],[1.08,-0.35],[1.08,-0.25],[1.1,-0.15],[1.1,-0.05],[1.12,0.05],[1.12,-0.42],[1.14,-0.3],[1.15,-0.2],[1.16,-0.1],[1.17,0],[1.18,-0.38],[1.2,-0.25],[1.2,-0.12],[1.22,-0.02],[1.23,-0.33],[1.25,-0.2],[1.25,0.05],[1.27,-0.45],[1.28,-0.1],[1.3,-0.3],[1.3,0],[1.32,-0.52],[1.33,-0.43],[1.35,-0.2],[1.35,-0.56],[1.38,-0.05],[1.4,-0.24],[1.42,-0.4],[1.45,-0.62],[1.48,-0.56],[1.5,-0.3],[1.55,-0.6],[1.59,-0.655],[1.61,-0.59],[1.29,-0.6],[1.33,0.11],[1.2,0.19],[1.15,0.12],[1.05,0.08],[0.97,0.67],[1.0,-0.5],[1.1,-0.55],[1.2,-0.5],[1.3,0.15],[1.25,0.2],[1.1,0.2],[1.05,-0.6],[1.15,-0.65],[1.4,-0.5],[1.52,-0.45],[1.45,-0.15],[1.02,-0.15],[1.08,-0.08],[1.13,-0.22],[1.18,-0.05],[1.05,-0.28],[1.07,-0.18],[1.09,-0.27],[1.11,-0.33],[1.13,-0.12],[1.15,-0.27],[1.06,-0.22],[1.11,-0.02],[1.14,-0.05],[1.09,0.02],[1.16,-0.34],[1.12,-0.38],[1.19,-0.2]];
const redA3091 = [[1.153,-0.371],[0.997,-0.274],[1.038,-0.166],[1.08,0],[1.2,-0.05],[1.25,0.1],[1.35,0.25],[1.1,-0.45],[1.3,-0.2],[1.05,0.15]];
const greenA3889 = [[1.0,-0.65],[0.9,0]];
const redA3889 = [[1.05,-0.5],[1.15,-0.3],[1.2,-0.1],[1.25,0.2],[1.3,0.35],[1.1,0.05],[1.35,-0.2],[0.95,0.3]];
const redA4893 = [[1.05,-0.3],[1.1,-0.55],[1.15,-0.4],[1.2,-0.15],[1.25,-0.65],[1.3,-0.45],[1.35,-0.25],[1.4,-0.5],[1.45,-0.7],[1.5,-0.35],[1.2,0.1],[1.3,0.05],[1.4,0.2],[1.45,0.45],[1.5,0.3],[1.15,0.3],[1.05,0.15],[1.55,-0.1],[1.25,-0.3],[1.6,0.1]];
const redA6905 = [[1.05,-0.15],[1.15,-0.2],[1.25,0.05],[1.3,0.2],[1.35,-0.1],[1.2,0.4],[1.1,0.1]];
const redA7745 = [[1.1,-0.1],[1.2,0],[1.3,0.1],[1.35,0.3],[1.25,-0.2],[1.05,0.2]];
const greenA7745 = [[0.95,0.5]];
const redA8687 = [[1.247,-0.575],[1.164,-0.484],[1.112,-0.441],[1.13,-0.41],[1.164,-0.333],[1.076,-0.29],[1.18,-0.31],[1.283,-0.306],[1.247,-0.215],[1.27,-0.19],[1.33,-0.108],[1.309,-0.038],[1.413,-0.038],[1.455,0],[1.32,0.097],[1.39,0.097],[1.423,0.366],[1.49,0.42],[1.54,0.323],[1.54,0.42],[1.143,0.5],[1.024,0.247],[1.382,1.0]];
const redA9744 = [[1.0,-0.2],[1.05,-0.35],[1.1,-0.1],[1.15,-0.45],[1.2,-0.25],[1.25,-0.5],[1.3,-0.15],[1.35,-0.3],[1.4,0],[1.45,-0.2],[1.5,0.15],[1.15,0.1],[1.2,0.25],[1.3,0.35],[1.4,0.45],[1.5,0.55],[1.1,0.3],[1.25,0.05],[1.55,-0.05],[1.6,0.3],[1.35,0.6],[1.18,-0.05]];
const redA10929 = [[1.0,-0.6],[1.05,-0.45],[1.1,-0.7],[1.15,-0.3],[1.2,-0.5],[1.25,-0.2],[1.3,-0.4],[1.35,-0.65],[1.4,-0.1],[1.45,-0.3],[1.1,0],[1.15,0.15],[1.2,-0.05],[1.25,0.2],[1.3,0.05],[1.35,0.3],[1.4,0.45],[1.05,0.3],[0.95,-0.15],[1.22,0.4],[1.5,0.05],[1.28,-0.75],[1.12,-0.2]];
const redA12259 = [[1.05,-0.2],[1.1,0.05],[1.15,-0.35],[1.2,0.2],[1.25,-0.1],[1.3,0.3],[1.35,0.05],[1.4,0.4],[1.2,0.55],[1.45,-0.15]];
const redA13750 = [[1.01,0.02],[1.02,0.07],[1.03,-0.04],[1.04,0.12],[1.06,0.03],[1.07,-0.02],[1.08,0.14],[1.09,0.07],[1.1,0.01],[1.11,0.17],[1.12,0.09],[1.13,-0.01],[1.14,0.19],[1.15,0.11],[1.16,0.04],[1.17,0.21],[1.18,0.13],[1.19,0.06],[1.2,0.16],[1.21,0.24],[1.22,0.09],[1.23,0.19],[1.05,0.17],[1.0,0.11],[0.98,0.04],[1.04,0.23],[1.11,0.26],[1.08,-0.07],[1.15,-0.04],[1.2,-0.01],[1.06,0.09],[1.12,0.04],[1.17,0.08],[1.09,0.12],[1.13,0.15],[1.03,0.05],[1.24,0.12],[1.26,0.05],[1.16,0.17],[1.07,0.2],[0.91,0.16],[0.94,0.31],[1.01,0.41],[1.06,0.54],[1.09,0.71],[1.16,0.84],[1.21,0.96],[1.26,0.39],[1.29,0.56],[1.34,0.71],[1.41,0.84],[1.44,0.96],[1.31,0.29],[1.36,0.46],[1.39,0.21],[1.46,0.34],[1.49,0.51],[1.56,0.64],[1.59,0.81],[1.66,0.94],[1.51,0.14],[1.54,0.31],[1.61,0.44],[1.64,0.61],[1.71,0.74],[1.74,0.91],[1.69,0.41],[1.76,0.24],[1.79,0.56],[1.86,0.69],[1.89,0.44],[1.96,0.31],[1.84,0.16],[1.81,-0.04],[1.71,0.06],[1.59,-0.09],[1.66,-0.24],[1.54,-0.36],[1.49,-0.19],[1.46,-0.41],[1.39,-0.26],[1.34,-0.44],[1.31,-0.31],[1.24,-0.49],[1.21,-0.34],[1.14,-0.46],[1.09,-0.29],[1.06,-0.19],[0.99,-0.36],[0.94,-0.11],[0.89,0.36],[0.88,0.54],[1.36,-0.09],[1.44,0.11],[1.56,0.06],[1.61,0.19],[1.28,0.09],[1.33,0.03],[1.37,0.13],[1.42,-0.04],[1.24,0.61],[1.19,0.76],[1.31,0.89],[1.11,0.46],[1.14,0.59],[0.99,0.76],[1.04,0.89],[0.96,0.61],[1.39,0.56],[1.51,0.69],[1.46,0.66],[1.61,0.59],[1.76,0.54],[1.81,0.36],[1.91,0.21],[1.94,0.61],[1.69,-0.11],[1.74,-0.29],[1.64,-0.44],[1.51,-0.51],[1.41,-0.56],[1.61,-0.54],[1.63,-0.97],[1.3,0.21],[1.34,0.36],[1.26,0.31],[1.19,0.34],[1.12,0.36],[1.38,0.63],[1.48,0.83],[1.57,0.94],[1.7,0.64],[1.86,0.84],[1.55,0.41],[1.66,0.31],[1.45,0.26],[1.52,-0.07],[1.22,-0.16],[1.28,-0.19],[1.35,0.79],[1.12,-0.13],[1.08,0.31],[1.03,0.36],[1.27,0.16],[1.32,0.24],[1.25,0.27],[1.18,0.28],[1.29,0.42],[1.22,0.45],[1.37,0.29],[1.42,0.39],[1.17,0.52],[1.27,0.49],[1.33,0.57],[1.41,0.47],[1.23,0.37],[1.36,0.18],[1.43,0.23],[1.3,-0.05],[1.35,0.05],[1.4,0.35],[1.47,0.45],[1.52,0.37],[1.58,0.29],[1.25,-0.08],[1.18,-0.12],[1.21,0.53],[1.45,0.58],[1.53,0.54],[1.6,0.72],[1.68,0.5],[1.73,0.37],[1.78,0.13],[1.83,0.27],[1.88,0.58],[1.92,0.79],[1.97,0.9],[1.99,0.12]];
const greenA13750 = [[1.75,0.3]];

// per-panel lookup tables, in the order of `ages`
const greenSets = [greenA1, greenA2, greenA3, greenA4, greenA5, greenA6, greenA7, greenA8, greenA9, greenA10,
  greenA11, greenA12, greenA14, greenA16, greenA18, greenA20, greenA22, greenA25, greenA28, greenA31,
  greenA35, greenA56, greenA88, greenA139, greenA220, greenA349, greenA552, greenA874, greenA1384, greenA2191,
  [], greenA3889, [], [], greenA7745, [], [], [], [], greenA13750];
const blueSets = [blueA1, blueA2, blueA3, blueA4, blueA5];
const redSets = {20: redA35, 23: redA139, 24: redA220, 25: redA349, 26: redA552, 27: redA874, 28: redA1384,
  29: redA2191, 30: redA3091, 31: redA3889, 32: redA4893, 33: redA6905, 34: redA7745, 35: redA8687,
  36: redA9744, 37: redA10929, 38: redA12259, 39: redA13750};

// ---- styling ----
const GREEN = 'rgba(44,160,44,0.28)';
const BLUE = 'rgba(0,0,255,0.33)';
const RED = 'rgba(255,0,0,0.3)';
const LEGEND_COL = {g: 'rgba(44,160,44,0.3)', b: 'rgba(0,0,255,0.33)', r: 'rgba(255,0,0,0.3)'};
const C_BLUE = '#00bfff', C_PURPLE = '#8a2be2', C_ORANGE = '#ffa500';
const PLOT_W = 193, PLOT_H = 186, COL0 = 48, ROW0 = 9, COL_STEP = 216, ROW_STEP = 202;
const FONT = "'DejaVu Sans', 'Liberation Sans', sans-serif";
Chart.defaults.font.family = FONT;
Chart.defaults.color = '#000';

const fmt = v => (v < 0 ? '\u2212' : '') + Math.abs(v).toFixed(1);
const pts = a => a.map(([x, y]) => ({x, y}));

// axes frame on all four sides
const framePlugin = {
  id: 'frameBox',
  afterDraw(chart) {
    const {ctx, chartArea: a} = chart;
    ctx.save();
    ctx.strokeStyle = '#2b2b2b';
    ctx.lineWidth = 1.2;
    ctx.strokeRect(a.left, a.top, a.right - a.left, a.bottom - a.top);
    ctx.restore();
  }
};

// small legend box in the lower-left corner of each panel
const legendPlugin = {
  id: 'panelLegend',
  afterDatasetsDraw(chart, args, opts) {
    const {ctx, chartArea: a} = chart;
    ctx.save();
    ctx.font = '7.8px ' + FONT;
    const tw = ctx.measureText(opts.text).width;
    const x0 = a.left + 3.5, h = 14, y0 = a.bottom - 4 - h, w = 26 + tw + 3;
    ctx.beginPath();
    ctx.roundRect(x0, y0, w, h, 2);
    ctx.fillStyle = 'rgba(255,255,255,0.85)';
    ctx.fill();
    ctx.strokeStyle = '#d6d6d6';
    ctx.lineWidth = 1;
    ctx.stroke();
    ctx.beginPath();
    ctx.arc(a.left + 14, y0 + h / 2, 1.8, 0, Math.PI * 2);
    ctx.fillStyle = opts.color;
    ctx.fill();
    ctx.fillStyle = '#000';
    ctx.textBaseline = 'middle';
    ctx.fillText(opts.text, a.left + 29.5, y0 + h / 2 + 0.5);
    ctx.restore();
  }
};

ages.forEach((age, i) => {
  const r = Math.floor(i / 5), c = i % 5;
  const isLeft = c === 0, isBottom = r === 7;
  const plotLeft = COL0 + c * COL_STEP, plotTop = ROW0 + r * ROW_STEP;
  const yw = isLeft ? 48 : 12, xh = isBottom ? 30 : 6, padTop = 6, padRight = 10;
  const cv = document.createElement('canvas');
  cv.width = yw + PLOT_W + padRight;
  cv.height = padTop + PLOT_H + xh;
  cv.style.left = (plotLeft - yw) + 'px';
  cv.style.top = (plotTop - padTop) + 'px';
  cv.style.width = cv.width + 'px';
  cv.style.height = cv.height + 'px';
  document.body.appendChild(cv);

  const old = markPurple[i] !== null;
  const lw = i < 20 ? 2.8 : 1.8;
  const datasets = [];
  const scatter = (data, color, order) => ({
    data: pts(data), showLine: false, pointRadius: 1.8, pointHoverRadius: 1.8,
    pointBackgroundColor: color, pointBorderWidth: 0, order
  });
  if (greenSets[i].length) datasets.push(scatter(greenSets[i], GREEN, 10));
  if (blueSets[i]) datasets.push(scatter(blueSets[i], BLUE, 9));
  if (redSets[i]) datasets.push(scatter(redSets[i], RED, 8));

  const line = (data, color, width, dash, order) => ({
    data: pts(data), showLine: true, borderColor: color, borderWidth: width, borderDash: dash,
    pointRadius: 0, fill: false, tension: 0, order
  });
  datasets.push(line(trackBlue, C_BLUE, lw, [], 7));
  if (old) {
    datasets.push(line(trackOrange, C_ORANGE, 1.8, [5, 3], 6));
    datasets.push(line(trackPurple, C_PURPLE, 1.8, [6, 2.5, 1.5, 2.5], 5));
  }

  const marks = [[markBlue[i], C_BLUE]];
  if (old) { marks.push([markOrange[i], C_ORANGE]); marks.push([markPurple[i], C_PURPLE]); }
  marks.forEach(([p, col]) => {
    datasets.push({
      data: pts([p]), showLine: false, pointStyle: 'circle', pointRadius: 3.6,
      pointBackgroundColor: col, pointBorderWidth: 0, order: 3
    });
  });
  datasets.push({
    data: pts(marks.map(m => m[0])), showLine: false, pointStyle: 'cross', pointRadius: 3.8,
    pointBorderColor: '#000', pointBorderWidth: 1.4, order: 1
  });

  const label = 'Age=' + age + ' Myr' + (fracText[i] ? ': ' + fracText[i] : '');

  new Chart(cv, {
    type: 'scatter',
    data: {datasets},
    plugins: [legendPlugin, framePlugin],
    options: {
      responsive: false,
      maintainAspectRatio: false,
      animation: false,
      devicePixelRatio: 1,
      events: [],
      layout: {padding: {left: 0, top: padTop, right: padRight, bottom: 0}},
      plugins: {
        legend: {display: false},
        tooltip: {enabled: false},
        panelLegend: {text: label, color: LEGEND_COL[legendKind[i]]}
      },
      scales: {
        x: {
          type: 'linear', min: xRange[0], max: xRange[1],
          afterFit: s => { s.height = xh; },
          ticks: {stepSize: tickStep, display: isBottom, callback: fmt, font: {size: 7.5},
            color: '#000', padding: 1, maxRotation: 0, autoSkip: false},
          grid: {drawOnChartArea: false, drawTicks: true, tickLength: 4, tickColor: '#000', tickWidth: 1},
          border: {display: false},
          title: {display: isBottom, text: xTitle, font: {size: 8.5}, color: '#000', padding: {top: 0, bottom: 5}}
        },
        y: {
          type: 'linear', min: yRange[0], max: yRange[1], reverse: true,
          afterFit: s => { s.width = yw; },
          ticks: {stepSize: tickStep, display: isLeft, callback: fmt, font: {size: 7.5},
            color: '#000', padding: 2, autoSkip: false},
          grid: {drawOnChartArea: false, drawTicks: true, tickLength: 4, tickColor: '#000', tickWidth: 1},
          border: {display: false},
          title: {display: isLeft, text: yTitle, font: {size: 10.8}, color: '#000', padding: {top: 8, bottom: 0}}
        }
      }
    }
  });
});
</script>
</body>
</html>
